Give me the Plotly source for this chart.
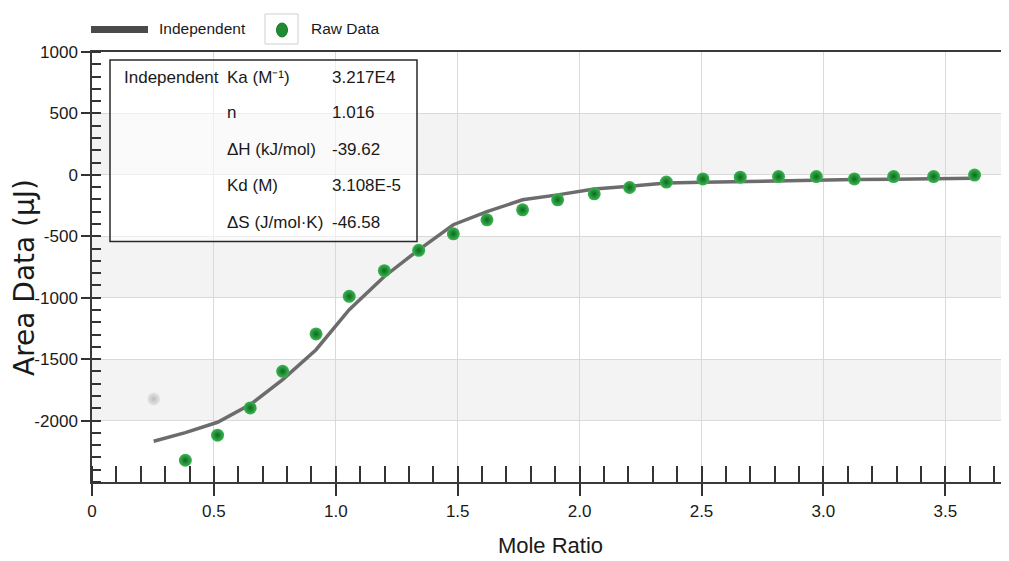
import plotly.graph_objects as go

# ---------------- data ----------------
mole_ratio = [0.253, 0.383, 0.515, 0.649, 0.782, 0.919, 1.055, 1.199, 1.340, 1.482,
              1.620, 1.766, 1.910, 2.060, 2.205, 2.356, 2.506, 2.659, 2.816, 2.971,
              3.127, 3.288, 3.452, 3.620]
raw_area = [-1824, -2323, -2119, -1897, -1599, -1295, -989, -780, -614, -480,
            -366, -285, -203, -154, -103, -59, -33, -19, -14, -14,
            -33, -14, -14, -2]
fit_area = [-2168, -2098, -2014, -1870, -1667, -1423, -1098, -827, -610, -406,
            -300, -203, -163, -116, -93, -67, -61, -54, -49, -41,
            -38, -35, -31, -27]
excluded_idx = [0]

x_tickvals = [0, 0.5, 1.0, 1.5, 2.0, 2.5, 3.0, 3.5]
x_ticktext = ["0", "0.5", "1.0", "1.5", "2.0", "2.5", "3.0", "3.5"]
y_tickvals = [1000, 500, 0, -500, -1000, -1500, -2000]
y_ticktext = ["1000", "500", "0", "-500", "-1000", "-1500", "-2000"]
band_ranges = [(0, 500), (-1000, -500), (-2000, -1500)]

param_names = ["Ka (M\u207b\u00b9)", "n", "\u0394H (kJ/mol)", "Kd (M)", "\u0394S (J/mol\u00b7K)"]
param_values = ["3.217E4", "1.016", "-39.62", "3.108E-5", "-46.58"]
model_name = "Independent"
x_title = "Mole Ratio"
y_title = "Area Data (\u03bcJ)"

# ---------------- layout geometry (page pixels) ----------------
PAGE_W, PAGE_H = 1009, 561
OFF = 8  # default body margin of the html page
L, R, T, B = 92, 1009, 52, 482


def px(x):
    return (x - L) / (R - L)


def py(y):
    return (B - y) / (B - T)


FONT = "Liberation Sans, Arial, sans-serif"
TXT = "#1a1a1a"

fig = go.Figure()

incl_x = [x for i, x in enumerate(mole_ratio) if i not in excluded_idx]
incl_y = [y for i, y in enumerate(raw_area) if i not in excluded_idx]
excl_x = [mole_ratio[i] for i in excluded_idx]
excl_y = [raw_area[i] for i in excluded_idx]

fig.add_trace(go.Scatter(
    x=mole_ratio, y=fit_area, mode="lines", name="Independent",
    line=dict(color="#6c6c6c", width=3.5), showlegend=False))
fig.add_trace(go.Scatter(
    x=excl_x, y=excl_y, mode="markers", name="Excluded",
    marker=dict(size=13, color="#e6e6e6", gradient=dict(type="radial", color="#bdbdbd"),
                line=dict(width=0)), showlegend=False))
fig.add_trace(go.Scatter(
    x=incl_x, y=incl_y, mode="markers", name="Raw Data",
    marker=dict(size=13, color="#3db552", gradient=dict(type="radial", color="#0b6a1e"),
                line=dict(width=0)), showlegend=False))

shapes = []
for lo, hi in band_ranges:
    shapes.append(dict(type="rect", xref="paper", yref="y", x0=0, x1=1, y0=lo, y1=hi,
                       fillcolor="#f3f3f3", line=dict(width=0), layer="below"))

# parameter table box
shapes.append(dict(type="rect", xref="paper", yref="paper",
                   x0=px(110), x1=px(417), y0=py(241.5), y1=py(60),
                   fillcolor="rgba(255,255,255,0.55)", line=dict(color="#2a2a2a", width=1.5),
                   layer="above"))

# manual legend
shapes.append(dict(type="line", xref="paper", yref="paper",
                   x0=px(91), x1=px(148), y0=py(29.5), y1=py(29.5),
                   line=dict(color="#4a4a4a", width=7), layer="above"))
shapes.append(dict(type="rect", xref="paper", yref="paper",
                   x0=px(265), x1=px(298), y0=py(44), y1=py(14),
                   fillcolor="white", line=dict(color="#cfcfcf", width=1), layer="above"))
shapes.append(dict(type="circle", xref="paper", yref="paper",
                   x0=px(276.5), x1=px(287.5), y0=py(37), y1=py(23),
                   fillcolor="#1f8c33", line=dict(color="#15772a", width=1), layer="above"))

annotations = []
annotations.append(dict(text="Independent", xref="paper", yref="paper", x=px(157), y=py(29),
                        xanchor="left", yanchor="middle", showarrow=False,
                        font=dict(family=FONT, size=15.5, color=TXT)))
annotations.append(dict(text="Raw Data", xref="paper", yref="paper", x=px(309), y=py(29),
                        xanchor="left", yanchor="middle", showarrow=False,
                        font=dict(family=FONT, size=15.5, color=TXT)))

row_y = [77, 113, 149, 186, 222]
annotations.append(dict(text=model_name, xref="paper", yref="paper", x=px(122), y=py(row_y[0]),
                        xanchor="left", yanchor="middle", showarrow=False,
                        font=dict(family=FONT, size=17, color=TXT)))
for i, (nm, val) in enumerate(zip(param_names, param_values)):
    annotations.append(dict(text=nm, xref="paper", yref="paper", x=px(225), y=py(row_y[i]),
                            xanchor="left", yanchor="middle", showarrow=False,
                            font=dict(family=FONT, size=17, color=TXT)))
    annotations.append(dict(text=val, xref="paper", yref="paper", x=px(330), y=py(row_y[i]),
                            xanchor="left", yanchor="middle", showarrow=False,
                            font=dict(family=FONT, size=17, color=TXT)))

# y-axis title (placed as rotated text to match the reference position)
annotations.append(dict(text=y_title, xref="paper", yref="paper", x=px(24), y=py(278),
                        xanchor="center", yanchor="middle", textangle=-90, showarrow=False,
                        font=dict(family="DejaVu Sans, sans-serif", size=28, color=TXT)))

fig.update_layout(
    width=PAGE_W - OFF, height=PAGE_H - OFF,
    margin=dict(l=L - OFF, r=PAGE_W - R, t=T - OFF, b=PAGE_H - B, pad=0),
    paper_bgcolor="white", plot_bgcolor="white",
    shapes=shapes, annotations=annotations,
    showlegend=False,
)

fig.update_xaxes(
    range=[0, (R - L) / 243.8], tickvals=x_tickvals, ticktext=x_ticktext,
    ticks="outside", ticklen=12, tickwidth=1.5, tickcolor="#333",
    showline=True, linecolor="#3a3a3a", linewidth=2, mirror=True,
    showgrid=True, gridcolor="#d9d9d9", gridwidth=1, zeroline=False,
    minor=dict(dtick=0.1, tick0=0, ticks="inside", ticklen=16, tickwidth=1.5,
               tickcolor="#333", showgrid=False),
    tickfont=dict(family=FONT, size=17, color=TXT), ticklabelstandoff=1,
    title=dict(text=x_title, font=dict(family=FONT, size=22, color=TXT), standoff=17),
    automargin=False,
)
fig.update_yaxes(
    range=[-2500, 1000], tickvals=y_tickvals, ticktext=y_ticktext,
    ticks="outside", ticklen=9, tickwidth=1.5, tickcolor="#333",
    showline=True, linecolor="#3a3a3a", linewidth=1.5, mirror=False,
    showgrid=True, gridcolor="#d9d9d9", gridwidth=1, zeroline=False,
    minor=dict(dtick=100, tick0=0, ticks="inside", ticklen=9, tickwidth=1.5,
               tickcolor="#333", showgrid=False),
    tickfont=dict(family=FONT, size=17, color=TXT), ticklabelstandoff=0,
    automargin=False,
)

fig.write_html("out.html")
